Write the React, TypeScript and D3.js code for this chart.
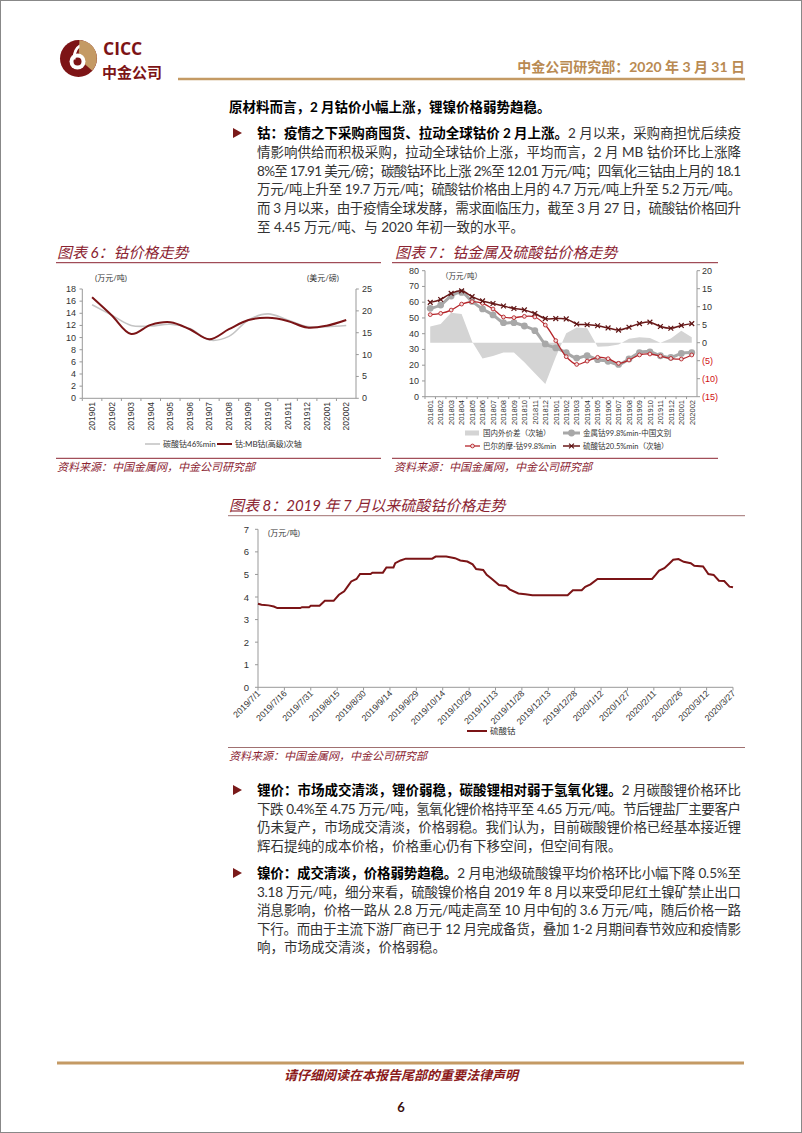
import React from "react";
import * as d3 from "d3";

// ---------- DATA ----------
const cats6 = ["201901","201902","201903","201904","201905","201906","201907","201908","201909","201910","201911","201912","202001","202002"];
const carbonate46 = [15.4, 13.7, 12.0, 11.9, 12.2, 11.5, 9.6, 10.2, 12.9, 13.9, 12.9, 11.8, 11.8, 12.0];
const mbCobalt = [23.1, 19.0, 14.7, 16.8, 17.4, 15.8, 13.5, 15.8, 17.9, 18.4, 17.7, 16.2, 16.6, 17.9];
const ticksL6 = [0, 2, 4, 6, 8, 10, 12, 14, 16, 18];
const ticksR6 = [0, 5, 10, 15, 20, 25];

const cats7 = ["201801","201802","201803","201804","201805","201806","201807","201808","201809","201810","201811","201812","201901","201902","201903","201904","201905","201906","201907","201908","201909","201910","201911","201912","202001","202002"];
const spread7 = [4.5, 5.2, 8.3, 8.0, 0.3, -4.4, -3.7, -2.7, -2.7, -5.4, -8.5, -11.5, -4.0, 2.6, 4.2, 4.0, -1.1, -1.0, -0.5, 1.1, 1.5, 1.3, 0.0, 1.2, 3.3, 1.5];
const metalChina7 = [56.1, 58.2, 63.9, 66.2, 60.5, 55.7, 51.9, 47.0, 47.0, 44.9, 41.9, 33.5, 31.0, 28.0, 24.5, 26.0, 23.5, 22.5, 20.5, 24.0, 28.0, 28.5, 26.0, 25.0, 27.5, 28.0];
const baltimore7 = [52.1, 52.9, 55.0, 58.8, 60.3, 59.3, 55.7, 50.6, 50.2, 51.0, 50.6, 45.5, 35.6, 25.4, 20.5, 22.6, 25.0, 24.1, 21.2, 23.3, 26.5, 27.1, 25.8, 24.3, 23.9, 26.5];
const sulfate20 = [11.2, 12.0, 13.7, 14.4, 12.8, 11.6, 10.9, 10.2, 9.5, 9.1, 8.1, 6.7, 6.7, 6.6, 5.2, 5.0, 4.7, 4.1, 3.5, 4.3, 5.3, 5.7, 4.5, 4.0, 4.8, 5.3];
const ticksL7 = [0, 10, 20, 30, 40, 50, 60, 70, 80];
const ticksR7 = [-15, -10, -5, 0, 5, 10, 15, 20];

const dates8 = ["2019-07-01","2019-07-03","2019-07-07","2019-07-10","2019-07-12","2019-07-25","2019-07-26","2019-07-30","2019-07-31","2019-08-05","2019-08-08","2019-08-13","2019-08-16","2019-08-19","2019-08-21","2019-08-23","2019-08-26","2019-08-28","2019-09-03","2019-09-04","2019-09-10","2019-09-12","2019-09-16","2019-09-17","2019-09-20","2019-09-23","2019-10-08","2019-10-10","2019-10-16","2019-10-21","2019-10-24","2019-10-28","2019-10-31","2019-11-02","2019-11-06","2019-11-08","2019-11-11","2019-11-15","2019-11-19","2019-11-21","2019-11-26","2019-11-30","2019-12-04","2019-12-24","2019-12-27","2020-01-01","2020-01-03","2020-01-06","2020-01-10","2020-02-10","2020-02-12","2020-02-14","2020-02-17","2020-02-20","2020-02-22","2020-02-25","2020-02-28","2020-03-03","2020-03-05","2020-03-10","2020-03-13","2020-03-16","2020-03-19","2020-03-22","2020-03-25","2020-03-27"];
const values8 = [3.70,3.66,3.63,3.58,3.51,3.51,3.55,3.55,3.61,3.61,3.83,3.83,4.10,4.25,4.47,4.69,4.80,5.02,5.02,5.08,5.08,5.31,5.31,5.50,5.62,5.70,5.70,5.79,5.79,5.72,5.62,5.57,5.45,5.24,5.20,4.98,4.80,4.53,4.49,4.34,4.16,4.12,4.08,4.08,4.30,4.30,4.45,4.56,4.80,4.80,4.98,5.17,5.28,5.50,5.65,5.68,5.56,5.50,5.38,5.35,5.02,4.98,4.72,4.71,4.46,4.43];
const ticks8 = [0, 1, 2, 3, 4, 5, 6, 7];

// ---------- STYLE ----------
const FONT = "'Lato','Noto Sans CJK SC',sans-serif";
const AX = "'Liberation Sans',Arial,'Noto Sans CJK SC',sans-serif";
const MAROON = "#7b1416";
const TITLE = "#8b2331";
const GOLD = "#c49a64";
const TEXT = "#333";

const parseDate = (s: string) => { const [y, m, d] = s.split("-").map(Number); return new Date(Date.UTC(y, m - 1, d)); };

function Para({ x, y0, step, lines }: any) {
  return (
    <g fontFamily={FONT} fontSize={13.5} fill={TEXT}>
      {lines.map((ln: any, i: number) => (
        <text key={i} x={x} y={y0 + i * step} {...(ln.j ? { textLength: 484, lengthAdjust: "spacing" } : {})}>
          {ln.b ? <tspan fontWeight={700} fill="#000">{ln.b}</tspan> : null}
          {ln.t ? <tspan>{ln.t}</tspan> : null}
        </text>
      ))}
    </g>
  );
}

function Bullet({ x, y }: any) {
  return <path d={`M${x},${y - 5} L${x + 9},${y} L${x},${y + 5} Z`} fill="#7a1a1a" />;
}

function Chart6() {
  const x = d3.scaleBand().domain(cats6).range([82.3, 356]);
  const yL = d3.scaleLinear().domain([0, 18]).range([398.3, 289]);
  const yR = d3.scaleLinear().domain([0, 25]).range([398.3, 289]);
  const cx = (c: string) => (x(c) as number) + x.bandwidth() / 2;
  const lineL = d3.line<number>().x((_, i) => cx(cats6[i])).y(v => yL(v)).curve(d3.curveCatmullRom.alpha(0.5));
  const lineR = d3.line<number>().x((_, i) => cx(cats6[i])).y(v => yR(v)).curve(d3.curveCatmullRom.alpha(0.5));
  return (
    <g fontFamily={AX}>
      <text x={57} y={258} fontFamily={FONT} fontStyle="italic" fontSize={15} fill={TITLE}>图表 6：钴价格走势</text>
      <line x1={56} x2={381} y1={262.7} y2={262.7} stroke={TITLE} strokeWidth={1} />
      <text x={95} y={281} fontSize={8} fill="#333" fontFamily={FONT}>(万元/吨)</text>
      <text x={307} y={281} fontSize={8} fill="#333" fontFamily={FONT}>(美元/磅)</text>
      <line x1={82.3} x2={82.3} y1={289} y2={398.3} stroke="#999" />
      <line x1={356} x2={356} y1={289} y2={398.3} stroke="#999" />
      <line x1={82.3} x2={356} y1={398.3} y2={398.3} stroke="#999" />
      {ticksL6.map(t => (
        <g key={"l" + t}>
          <line x1={79.5} x2={82.3} y1={yL(t)} y2={yL(t)} stroke="#999" />
          <text x={76} y={yL(t) + 3} fontSize={9} textAnchor="end" fill="#333">{t}</text>
        </g>
      ))}
      {ticksR6.map(t => (
        <g key={"r" + t}>
          <line x1={356} x2={358.8} y1={yR(t)} y2={yR(t)} stroke="#999" />
          <text x={362} y={yR(t) + 3} fontSize={9} fill="#333">{t}</text>
        </g>
      ))}
      {cats6.map(c => (
        <g key={c}>
          <line x1={x(c) as number} x2={x(c) as number} y1={398.3} y2={401} stroke="#999" />
          <text transform={`translate(${cx(c) + 3},${402}) rotate(-90)`} fontSize={8.5} textAnchor="end" fill="#333">{c}</text>
        </g>
      ))}
      <path d={lineL(carbonate46) || ""} fill="none" stroke="#c4c4c4" strokeWidth={1.6} />
      <path d={lineR(mbCobalt) || ""} fill="none" stroke={MAROON} strokeWidth={2} />
      <line x1={145} x2={160} y1={444} y2={444} stroke="#c4c4c4" strokeWidth={1.6} />
      <text x={163} y={447} fontSize={8} fill="#333" fontFamily={FONT}>碳酸钴46%min</text>
      <line x1={217} x2={232} y1={444} y2={444} stroke={MAROON} strokeWidth={2} />
      <text x={235} y={447} fontSize={8} fill="#333" fontFamily={FONT}>钴:MB钴(高级)次轴</text>
      <line x1={56} x2={381} y1={458.3} y2={458.3} stroke={TITLE} strokeWidth={1} />
      <text x={57} y={471} fontFamily={FONT} fontStyle="italic" fontSize={11} fill={TITLE}>资料来源：中国金属网，中金公司研究部</text>
    </g>
  );
}

function Chart7() {
  const x = d3.scaleBand().domain(cats7).range([425, 697]);
  const yL = d3.scaleLinear().domain([0, 80]).range([396.7, 270.7]);
  const yR = d3.scaleLinear().domain([-15, 20]).range([396.7, 270.7]);
  const cx = (i: number) => (x(cats7[i]) as number) + x.bandwidth() / 2;
  const curve = d3.curveCatmullRom.alpha(0.5);
  const area = d3.area<number>().x((_, i) => cx(i)).y0(yR(0)).y1(v => yR(v));
  const lL = d3.line<number>().x((_, i) => cx(i)).y(v => yL(v)).curve(curve);
  const lR = d3.line<number>().x((_, i) => cx(i)).y(v => yR(v)).curve(curve);
  const xm = (px: number, py: number, s: number, k: string) => (
    <path key={k} d={`M${px - s},${py - s}L${px + s},${py + s}M${px - s},${py + s}L${px + s},${py - s}`} stroke="#5e1414" strokeWidth={1.2} />
  );
  return (
    <g fontFamily={AX}>
      <text x={395} y={258} fontFamily={FONT} fontStyle="italic" fontSize={15} fill={TITLE}>图表 7：钴金属及硫酸钴价格走势</text>
      <line x1={392} x2={718} y1={262.7} y2={262.7} stroke={TITLE} strokeWidth={1} />
      <path d={area(spread7) || ""} fill="#d4d4d4" />
      <line x1={425} x2={425} y1={270.7} y2={396.7} stroke="#999" />
      <line x1={697} x2={697} y1={270.7} y2={396.7} stroke="#999" />
      <line x1={425} x2={697} y1={396.7} y2={396.7} stroke="#999" />
      <text x={441} y={279} fontSize={7.5} fill="#333" fontFamily={FONT}>（万元/吨）</text>
      {ticksL7.map(t => (
        <g key={"l" + t}>
          <line x1={422} x2={425} y1={yL(t)} y2={yL(t)} stroke="#999" />
          <text x={419} y={yL(t) + 3} fontSize={9} textAnchor="end" fill="#333">{t}</text>
        </g>
      ))}
      {ticksR7.map(t => (
        <g key={"r" + t}>
          <line x1={697} x2={700} y1={yR(t)} y2={yR(t)} stroke="#999" />
          <text x={702} y={yR(t) + 3} fontSize={9} fill={t < 0 ? "#d01010" : "#333"}>{t < 0 ? `(${-t})` : t}</text>
        </g>
      ))}
      {cats7.map((c, i) => (
        <g key={c}>
          <line x1={x(c) as number} x2={x(c) as number} y1={396.7} y2={399} stroke="#999" />
          <text transform={`translate(${cx(i) + 2.8},${400}) rotate(-90)`} fontSize={7.5} textAnchor="end" fill="#333">{c}</text>
        </g>
      ))}
      <path d={lL(metalChina7) || ""} fill="none" stroke="#a8a8a8" strokeWidth={3} />
      {metalChina7.map((v, i) => <circle key={"g" + i} cx={cx(i)} cy={yL(v)} r={3.4} fill="#a8a8a8" />)}
      <path d={lL(baltimore7) || ""} fill="none" stroke="#b5252a" strokeWidth={1.3} />
      {baltimore7.map((v, i) => <circle key={"b" + i} cx={cx(i)} cy={yL(v)} r={1.9} fill="#f2dede" stroke="#b5252a" strokeWidth={0.9} />)}
      <path d={lR(sulfate20) || ""} fill="none" stroke="#6a1818" strokeWidth={1.5} />
      {sulfate20.map((v, i) => xm(cx(i), yR(v), 2.4, "x" + i))}
      <g fontFamily={FONT} fontSize={7.5} fill="#333">
        <rect x={465} y={430.5} width={14} height={5} fill="#d4d4d4" />
        <text x={483} y={436}>国内外价差（次轴）</text>
        <line x1={563} x2={580} y1={433} y2={433} stroke="#a8a8a8" strokeWidth={3} />
        <circle cx={571.5} cy={433} r={3.4} fill="#a8a8a8" />
        <text x={583} y={436}>金属钴99.8%min-中国文别</text>
        <line x1={465} x2={480} y1={446} y2={446} stroke="#b5252a" strokeWidth={1.3} />
        <circle cx={472.5} cy={446} r={1.9} fill="#f2dede" stroke="#b5252a" strokeWidth={0.9} />
        <text x={483} y={449}>巴尔的摩-钴99.8%min</text>
        <line x1={563} x2={580} y1={446} y2={446} stroke="#6a1818" strokeWidth={1.5} />
        {xm(571.5, 446, 2.4, "lx")}
        <text x={583} y={449}>硫酸钴20.5%min（次轴）</text>
      </g>
      <line x1={392} x2={718} y1={458.3} y2={458.3} stroke={TITLE} strokeWidth={1} />
      <text x={394} y={471} fontFamily={FONT} fontStyle="italic" fontSize={11} fill={TITLE}>资料来源：中国金属网，中金公司研究部</text>
    </g>
  );
}

function Chart8() {
  const start = parseDate(dates8[0]);
  const end = parseDate(dates8[dates8.length - 1]);
  const x = d3.scaleUtc().domain([start, end]).range([258, 733]);
  const y = d3.scaleLinear().domain([0, 7]).range([687.3, 529.3]);
  const tickDates = d3.range(19).map(i => d3.utcDay.offset(start, 15 * i));
  const fmt = (d: Date) => `${d.getUTCFullYear()}/${d.getUTCMonth() + 1}/${d.getUTCDate()}`;
  const line = d3.line<number>().x((_, i) => x(parseDate(dates8[i]))).y(v => y(v));
  return (
    <g fontFamily={AX}>
      <text x={229} y={511} fontFamily={FONT} fontStyle="italic" fontSize={15} fill={TITLE}>图表 8：2019 年 7 月以来硫酸钴价格走势</text>
      <line x1={228} x2={745} y1={515.7} y2={515.7} stroke="#a07070" strokeWidth={1} />
      <line x1={258} x2={258} y1={529.3} y2={687.3} stroke="#999" />
      <line x1={258} x2={733} y1={687.3} y2={687.3} stroke="#999" />
      <text x={268} y={536} fontSize={8} fill="#333" fontFamily={FONT}>(万元/吨)</text>
      {ticks8.map(t => (
        <g key={t}>
          <line x1={255} x2={258} y1={y(t)} y2={y(t)} stroke="#999" />
          <text x={249} y={y(t) + 3.5} fontSize={9.5} textAnchor="end" fill="#333">{t}</text>
        </g>
      ))}
      {tickDates.map((d, i) => (
        <g key={i}>
          <line x1={x(d)} x2={x(d)} y1={687.3} y2={690.5} stroke="#999" />
          <text transform={`translate(${x(d) + 3},${694}) rotate(-45)`} fontSize={8.8} textAnchor="end" fill="#333">{fmt(d)}</text>
        </g>
      ))}
      <path d={line(values8) || ""} fill="none" stroke={MAROON} strokeWidth={2} />
      <line x1={467} x2={487} y1={731} y2={731} stroke={MAROON} strokeWidth={2} />
      <text x={490} y={734} fontSize={8.5} fill="#333" fontFamily={FONT}>硫酸钴</text>
      <line x1={228} x2={745} y1={747.5} y2={747.5} stroke="#a07070" strokeWidth={1} />
      <text x={229} y={760} fontFamily={FONT} fontStyle="italic" fontSize={11} fill={TITLE}>资料来源：中国金属网，中金公司研究部</text>
    </g>
  );
}

function Logo() {
  const cx = 78.5, cy = 58.5, r = 18.5;
  const arc = d3.arc()({ innerRadius: 0, outerRadius: r, startAngle: 0.05, endAngle: 2.3 } as any) || "";
  return (
    <g>
      <circle cx={cx} cy={cy} r={r} fill="#7d1416" />
      <path d={arc} transform={`translate(${cx},${cy})`} fill={GOLD} />
      <circle cx={cx - 1} cy={cy + 3} r={8} fill="#fff" />
      <circle cx={cx - 1} cy={cy + 3} r={4} fill="#7d1416" />
      <path d={`M${cx - 6},${cy + 1} Q${cx - 6},${cy - 10} ${cx + 1},${cy - 14} L${cx + 1},${cy - 11} Q${cx - 3},${cy - 7} ${cx - 3},${cy + 1} Z`} fill="#fff" />
      <text x={103} y={55} fontFamily="'Open Sans','Liberation Sans',sans-serif" fontWeight={700} fontSize={17.5} fill="#7d1416">CICC</text>
      <text x={102} y={78} fontFamily="'Noto Sans CJK SC',sans-serif" fontWeight={700} fontSize={15} fill="#7d1416">中金公司</text>
    </g>
  );
}

export default function App() {
  const p1 = [
    { b: "钴：疫情之下采购商囤货、拉动全球钴价 2 月上涨。", t: "2 月以来，采购商担忧后续疫", j: true },
    { t: "情影响供给而积极采购，拉动全球钴价上涨，平均而言，2 月 MB 钴价环比上涨降", j: true },
    { t: "8%至 17.91 美元/磅；碳酸钴环比上涨 2%至 12.01 万元/吨；四氧化三钴由上月的 18.1", j: true },
    { t: "万元/吨上升至 19.7 万元/吨；硫酸钴价格由上月的 4.7 万元/吨上升至 5.2 万元/吨。", j: true },
    { t: "而 3 月以来，由于疫情全球发酵，需求面临压力，截至 3 月 27 日，硫酸钴价格回升", j: true },
    { t: "至 4.45 万元/吨、与 2020 年初一致的水平。" },
  ];
  const p2 = [
    { b: "锂价：市场成交清淡，锂价弱稳，碳酸锂相对弱于氢氧化锂。", t: "2 月碳酸锂价格环比", j: true },
    { t: "下跌 0.4%至 4.75 万元/吨，氢氧化锂价格持平至 4.65 万元/吨。节后锂盐厂主要客户", j: true },
    { t: "仍未复产，市场成交清淡，价格弱稳。我们认为，目前碳酸锂价格已经基本接近锂", j: true },
    { t: "辉石提纯的成本价格，价格重心仍有下移空间，但空间有限。" },
  ];
  const p3 = [
    { b: "镍价：成交清淡，价格弱势趋稳。", t: "2 月电池级硫酸镍平均价格环比小幅下降 0.5%至", j: true },
    { t: "3.18 万元/吨，细分来看，硫酸镍价格自 2019 年 8 月以来受印尼红土镍矿禁止出口", j: true },
    { t: "消息影响，价格一路从 2.8 万元/吨走高至 10 月中旬的 3.6 万元/吨，随后价格一路", j: true },
    { t: "下行。而由于主流下游厂商已于 12 月完成备货，叠加 1-2 月期间春节效应和疫情影", j: true },
    { t: "响，市场成交清淡，价格弱稳。" },
  ];
  return (
    <svg width={802} height={1133} viewBox="0 0 802 1133" style={{ position: "absolute", left: 0, top: 0, background: "#fff" }}>
      <rect x={0.5} y={0.5} width={801} height={1132} fill="#fff" stroke="#888" />
      <Logo />
      <text x={745} y={72} textAnchor="end" fontFamily={FONT} fontWeight={700} fontSize={14} fill="#b98a52">中金公司研究部：2020 年 3 月 31 日</text>
      <line x1={178} x2={745} y1={79} y2={79} stroke={GOLD} strokeWidth={2.5} />
      <text x={229} y={112} fontFamily={FONT} fontWeight={700} fontSize={13.5} fill="#000">原材料而言，2 月钴价小幅上涨，锂镍价格弱势趋稳。</text>
      <Bullet x={233} y={133} />
      <Para x={257} y0={138} step={18.8} lines={p1} />
      <Chart6 />
      <Chart7 />
      <Chart8 />
      <Bullet x={233} y={790} />
      <Para x={257} y0={795} step={18.5} lines={p2} />
      <Bullet x={233} y={873} />
      <Para x={257} y0={878} step={18.5} lines={p3} />
      <line x1={57} x2={744} y1={1063} y2={1063} stroke={GOLD} strokeWidth={3} />
      <text x={401} y={1080} textAnchor="middle" fontFamily={FONT} fontStyle="italic" fontWeight={700} fontSize={13} fill="#8b1a1a">请仔细阅读在本报告尾部的重要法律声明</text>
      <text x={401} y={1112} textAnchor="middle" fontFamily={FONT} fontWeight={700} fontSize={13} fill="#3a1010">6</text>
    </svg>
  );
}
